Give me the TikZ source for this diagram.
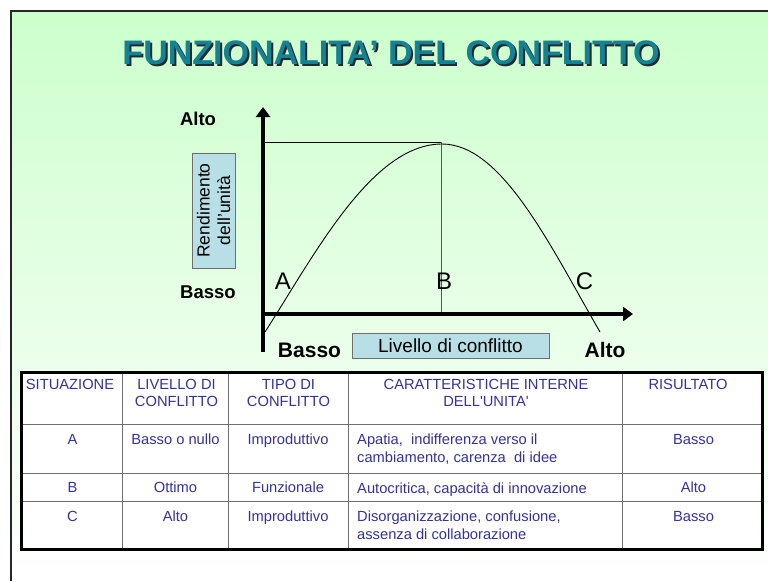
\documentclass[tikz,border=0pt]{standalone}
\usepackage{fontspec}
\setmainfont{Liberation Sans}
\usetikzlibrary{arrows.meta}
\definecolor{slidegreen}{RGB}{204,255,204}
\definecolor{titleteal}{RGB}{20,130,146}
\definecolor{titleshade}{RGB}{40,40,48}
\definecolor{boxblue}{RGB}{184,223,230}
\definecolor{tabletext}{RGB}{51,51,153}
\definecolor{rulegray}{RGB}{110,110,110}

\begin{document}
\begin{tikzpicture}[x=1pt, y=-1pt]
    \tikzset{axis/.style={line width=3.5pt, -{Triangle[length=10pt,width=14pt]}},
            curve/.style={line width=0.9pt},
            guide/.style={line width=0.9pt, draw=rulegray!80!black},
            level/.style={anchor=base, font=\fontsize{18.5}{20}\selectfont\bfseries},
            bigLevel/.style={anchor=base, font=\fontsize{21}{23}\selectfont\bfseries},
            point/.style={anchor=base, font=\fontsize{24}{26}\selectfont},
            valuebox/.style={rectangle, draw=rulegray, line width=0.9pt, fill=boxblue, inner sep=0pt, align=center},
            cell/.style={anchor=north, inner sep=0pt, align=center, text=tabletext, font=\fontsize{14.7}{17.5}\selectfont},
            lcell/.style={cell, anchor=north west, align=left},
            grid/.style={draw=rulegray, line width=0.9pt}}
    \useasboundingbox (0,0) rectangle (768,581);

    % Fond
    \fill[white] (0,0) rectangle (768,581);
    \shade[top color=slidegreen, bottom color=white] (11,11) rectangle (768,581);
    \draw[line width=2.5pt, black!85] (10.8,581) -- (10.8,11.2) -- (768,11.2);

    % Titre
    \node[anchor=base, font=\fontsize{34}{36}\selectfont\bfseries, text=titleshade] (titleshadow) at (393,66) {FUNZIONALITA’ DEL CONFLITTO};
    \node[anchor=base, font=\fontsize{34}{36}\selectfont\bfseries, text=titleteal] (title) at (391,64) {FUNZIONALITA’ DEL CONFLITTO};

    % Axes
    \coordinate (origin) at (263,314);
    \coordinate (ybottom) at (263,352);
    \coordinate (ytop) at (263,107);
    \coordinate (xend) at (633,314);
    \coordinate (ymark) at (263,142);
    \coordinate (btop) at (441,142);
    \coordinate (bfoot) at (441,314);
    \coordinate (cstart) at (265,332);
    \coordinate (peak) at (442,144);
    \coordinate (cend) at (600,332);

    \draw[curve] (ymark) -- (btop);
    \draw[guide] (btop) -- (bfoot);
    \draw[curve] (cstart) .. controls (315,254) and (372,144) .. (peak)
                 .. controls (502,144) and (550,245.5) .. (cend);
    \draw[axis] (ybottom) -- (ytop);
    \draw[axis] (origin) -- (xend);

    \node[level] (yhigh) at (198,125) {Alto};
    \node[level] (ylow) at (208,298) {Basso};
    \node[bigLevel] (xlow) at (309.5,357) {Basso};
    \node[bigLevel] (xhigh) at (605,357) {Alto};
    \node[point] (ptA) at (283,289) {A};
    \node[point] (ptB) at (444,289) {B};
    \node[point] (ptC) at (584.5,289) {C};

    \node[valuebox, rotate=90, minimum width=115pt, minimum height=43pt, font=\fontsize{17.5}{20.5}\selectfont] (rendimento) at (213.5,210.5) {Rendimento\\dell’unità};
    \node[valuebox, minimum width=197pt, minimum height=25pt, font=\fontsize{19}{21}\selectfont] (livello) at (450.5,345.5) {Livello di conflitto};

    % Tableau
    \fill[white] (21,372) rectangle (762,549);
    \foreach \y in {424,473,501}
        \draw[grid] (21,\y) -- (762,\y);
    \foreach \x in {122,228,348,622}
        \draw[grid] (\x,372) -- (\x,549);
    \draw[line width=3pt] (21,372) rectangle (762,549);

    \node[cell] (head1) at (70,379) {SITUAZIONE};
    \node[cell] (head2) at (176.5,379) {LIVELLO DI\\CONFLITTO};
    \node[cell] (head3) at (288.5,379) {TIPO DI\\CONFLITTO};
    \node[cell] (head4) at (486,379) {CARATTERISTICHE INTERNE\\DELL\textquotesingle UNITA\textquotesingle};
    \node[cell] (head5) at (688,379) {RISULTATO};

    \node[cell] (rowA1) at (72.5,434) {A};
    \node[cell] (rowA2) at (175.5,434) {Basso o nullo};
    \node[cell] (rowA3) at (288,434) {Improduttivo};
    \node[lcell] (rowA4) at (357,434) {Apatia, \ indifferenza verso il\\cambiamento, carenza \ di idee};
    \node[cell] (rowA5) at (693.5,434) {Basso};

    \node[cell] (rowB1) at (72.5,482) {B};
    \node[cell] (rowB2) at (175.5,482) {Ottimo};
    \node[cell] (rowB3) at (288,482) {Funzionale};
    \node[lcell] (rowB4) at (357,482) {Autocritica, capacità di innovazione};
    \node[cell] (rowB5) at (693.5,482) {Alto};

    \node[cell] (rowC1) at (72.5,511) {C};
    \node[cell] (rowC2) at (175.5,511) {Alto};
    \node[cell] (rowC3) at (288,511) {Improduttivo};
    \node[lcell] (rowC4) at (357,511) {Disorganizzazione, confusione,\\assenza di collaborazione};
    \node[cell] (rowC5) at (693.5,511) {Basso};
\end{tikzpicture}
\end{document}
